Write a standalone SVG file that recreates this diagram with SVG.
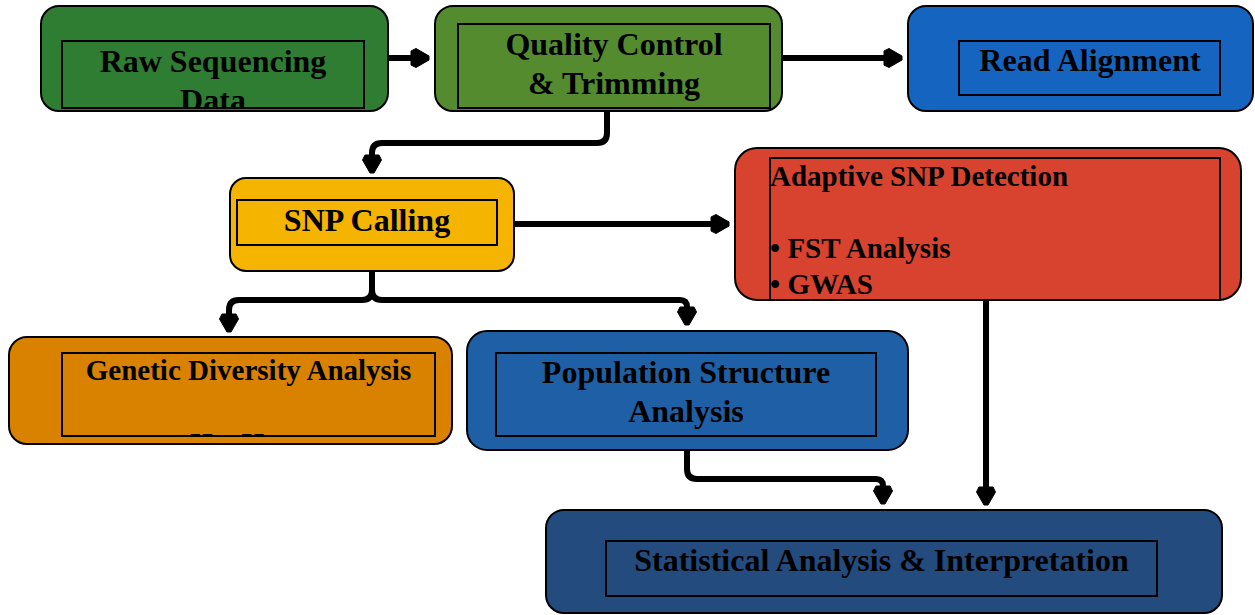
<svg xmlns="http://www.w3.org/2000/svg" width="1255" height="615" viewBox="0 0 1255 615">
<style>
.outer{stroke:#000;stroke-width:2}
.inner{fill:none;stroke:#000;stroke-width:2}
.t{font-family:"Liberation Serif","Times New Roman",serif;font-weight:bold;font-size:32px;fill:#000;text-anchor:middle}
.s{font-family:"Liberation Serif","Times New Roman",serif;font-weight:bold;font-size:29px;fill:#000}
.c{fill:none;stroke:#000;stroke-width:6;marker-end:url(#arr)}
</style>
<defs>
<marker id="arr" markerUnits="userSpaceOnUse" markerWidth="20" markerHeight="22" viewBox="0 -11 20 22" refX="0" refY="0" orient="auto" overflow="visible">
<path d="M0,-7 L5,-9.5 L18,-2 L18,2 L5,9.5 L0,7 Z" fill="#000" stroke="#000" stroke-width="1"/>
</marker>
<clipPath id="clipRaw"><rect x="62" y="41" width="302" height="67"/></clipPath>
<clipPath id="clipGen"><rect x="62" y="353" width="373" height="83"/></clipPath>
<clipPath id="clipAd"><rect x="770" y="158" width="452" height="142"/></clipPath>
</defs>
<g id="connectors">
<path class="c" d="M388,58 H411"/>
<path class="c" d="M782,58 H884"/>
<path class="c" d="M607,112 V133 Q607,143 597,143 H382 Q372,143 372,153 V155"/>
<path class="c" d="M514,224 H711"/>
<path class="c" d="M372,271 V290 Q372,300 362,300 H239 Q229,300 229,310 V314"/>
<path class="c" d="M372,271 V290 Q372,300 382,300 H680 Q687,300 687,307"/>
<path class="c" d="M687,450 V469 Q687,479 697,479 H876 Q883,479 883,486"/>
<path class="c" d="M986,300 V487"/>
</g>
<g id="raw">
<rect class="outer" x="41" y="6" width="347" height="105" rx="18" fill="#2e7d32"/>
<rect class="inner" x="62" y="41" width="302" height="67"/>
<g clip-path="url(#clipRaw)">
<text class="t" x="213" y="72">Raw Sequencing</text>
<text class="t" x="213" y="111">Data</text>
</g>
</g>
<g id="qc">
<rect class="outer" x="435" y="6" width="347" height="105" rx="18" fill="#558b2f"/>
<rect class="inner" x="458" y="24" width="312" height="84"/>
<text class="t" x="614" y="55">Quality Control</text>
<text class="t" x="614" y="94">&amp; Trimming</text>
</g>
<g id="align">
<rect class="outer" x="908" y="6" width="345" height="105" rx="18" fill="#1565c0"/>
<rect class="inner" x="959" y="41" width="261" height="54"/>
<text class="t" x="1090" y="71">Read Alignment</text>
</g>
<g id="snp">
<rect class="outer" x="230" y="178" width="284" height="93" rx="16" fill="#f4b400"/>
<rect class="inner" x="237" y="200" width="260" height="45"/>
<text class="t" x="367" y="231">SNP Calling</text>
</g>
<g id="adaptive">
<rect class="outer" x="735" y="148" width="506" height="152" rx="22" fill="#d84330"/>
<rect class="inner" x="770" y="158" width="450" height="142"/>
<g clip-path="url(#clipAd)">
<text class="s" x="770" y="186">Adaptive SNP Detection</text>
<text class="s" x="770" y="258">• FST Analysis</text>
<text class="s" x="770" y="294">• GWAS</text>
</g>
</g>
<g id="genetic">
<rect class="outer" x="9" y="337" width="443" height="107" rx="18" fill="#d88200"/>
<rect class="inner" x="62" y="353" width="373" height="83"/>
<g clip-path="url(#clipGen)">
<text class="s" x="248.5" y="380" text-anchor="middle">Genetic Diversity Analysis</text>
<text class="s" x="190" y="453">Ho, He</text>
</g>
</g>
<g id="population">
<rect class="outer" x="467" y="331" width="441" height="119" rx="20" fill="#1f5fa6"/>
<rect class="inner" x="496" y="353" width="380" height="83"/>
<text class="t" x="686" y="383">Population Structure</text>
<text class="t" x="686" y="422">Analysis</text>
</g>
<g id="stats">
<rect class="outer" x="546" y="510" width="676" height="103" rx="18" fill="#234b7d"/>
<rect class="inner" x="606" y="541" width="551" height="55"/>
<text class="t" x="881.5" y="571">Statistical Analysis &amp; Interpretation</text>
</g>
</svg>
